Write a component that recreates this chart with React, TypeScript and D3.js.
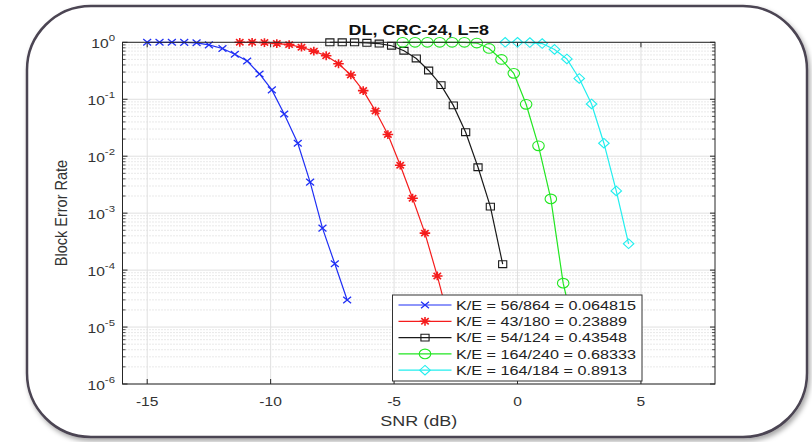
import React from 'react';
import * as d3 from 'd3';

// ---- data ----
const blueSnr = [-15, -14.5, -14, -13.5, -13, -12.5, -11.95, -11.45, -10.95, -10.45, -9.95, -9.45, -8.9, -8.4, -7.9, -7.4, -6.9];
const blueBler = [1, 1, 1, 0.995, 0.98, 0.9, 0.78, 0.615, 0.47, 0.278, 0.146, 0.0552, 0.0169, 0.0035, 0.000546, 0.000129, 0.0000298];

const redSnr = [-11.25, -10.75, -10.25, -9.75, -9.25, -8.75, -8.25, -7.75, -7.25, -6.75, -6.25, -5.75, -5.25, -4.75, -4.25, -3.75, -3.25, -2.75];
const redBler = [1, 1, 0.99, 0.95, 0.91, 0.82, 0.7, 0.58, 0.42, 0.267, 0.142, 0.062, 0.024, 0.00695, 0.00183, 0.000446, 0.000079, 0.000012];

const blackSnr = [-7.6, -7.1, -6.6, -6.1, -5.6, -5.1, -4.6, -4.1, -3.6, -3.1, -2.6, -2.1, -1.6, -1.1, -0.6];
const blackBler = [1, 1, 1, 0.98, 0.95, 0.87, 0.71, 0.52, 0.32, 0.177, 0.078, 0.0264, 0.0064, 0.0013, 0.000127];

const greenSnr = [-4.65, -4.15, -3.65, -3.15, -2.65, -2.15, -1.65, -1.15, -0.65, -0.15, 0.35, 0.85, 1.35, 1.85, 2.35];
const greenBler = [1, 1, 1, 1, 1, 1, 0.97, 0.78, 0.5, 0.285, 0.0815, 0.0152, 0.00178, 0.000059, 0.000007];

const cyanSnr = [-0.5, 0, 0.5, 1, 1.5, 2, 2.5, 3, 3.5, 4, 4.5];
const cyanBler = [1, 1, 0.99, 0.95, 0.75, 0.51, 0.232, 0.0826, 0.0169, 0.00246, 0.00029];

const legendLabels = [
  'K/E = 56/864 = 0.064815',
  'K/E = 43/180 = 0.23889',
  'K/E = 54/124 = 0.43548',
  'K/E = 164/240 = 0.68333',
  'K/E = 164/184 = 0.8913',
];
const seriesColors = ['#1f2ff5', '#f51c1c', '#1a1a1a', '#22e622', '#22eeee'];
const seriesMarkers = ['x', 'star', 'square', 'circle', 'diamond'];

const xTicks = [-15, -10, -5, 0, 5];
const yExponents = [0, -1, -2, -3, -4, -5, -6];

const titleText = 'DL, CRC-24, L=8';
const xLabel = 'SNR (dB)';
const yLabel = 'Block Error Rate';

// ---- layout ----
const W = 812;
const H = 442;
const PL = 122.5, PR = 715, PT = 42.3, PB = 384;
const SX = 1.2; // horizontal stretch of the reference
const FONT = '"Liberation Sans", Arial, Helvetica, sans-serif';
const AX = '#262626';

function Marker({ type, color }: { type: string; color: string }) {
  const common = { fill: 'none', stroke: color, strokeWidth: 1.1, vectorEffect: 'non-scaling-stroke' as any };
  if (type === 'x') return <path d="M-3.3,-3.3L3.3,3.3M-3.3,3.3L3.3,-3.3" {...common} strokeWidth={1.3} />;
  if (type === 'star')
    return <path d="M-4.4,0L4.4,0M0,-4.4L0,4.4M-3.1,-3.1L3.1,3.1M-3.1,3.1L3.1,-3.1" {...common} strokeWidth={1.6} />;
  if (type === 'square') return <rect x={-3.4} y={-3.4} width={6.8} height={6.8} {...common} />;
  if (type === 'circle') return <circle r={4.8} {...common} />;
  return <path d="M0,-4.8L4.4,0L0,4.8L-4.4,0Z" {...common} />;
}

export default function App() {
  const x = d3.scaleLinear().domain([-16, 8]).range([PL, PR]);
  const y = d3.scaleLog().domain([1e-6, 1]).range([PB, PT]);

  const series = [
    { snr: blueSnr, bler: blueBler },
    { snr: redSnr, bler: redBler },
    { snr: blackSnr, bler: blackBler },
    { snr: greenSnr, bler: greenBler },
    { snr: cyanSnr, bler: cyanBler },
  ].map((s, i) => ({
    pts: s.snr.map((v, j) => [v, s.bler[j]] as [number, number]),
    color: seriesColors[i],
    marker: seriesMarkers[i],
    label: legendLabels[i],
  }));

  const line = d3
    .line<[number, number]>()
    .x((d) => x(d[0]))
    .y((d) => y(d[1]));

  const minors: number[] = [];
  for (let e = -6; e < 0; e++) for (let m = 2; m <= 9; m++) minors.push(m * Math.pow(10, e));

  const lgX = 392.5, lgY = 295, lgW = 249.5, lgH = 86, lgRow = 16.3;

  return (
    <svg width={W} height={H} style={{ position: 'absolute', left: 0, top: 0, background: '#fff' }} fontFamily={FONT}>
      <defs>
        <filter id="shadow" x="-5%" y="-5%" width="112%" height="115%">
          <feDropShadow dx="2" dy="3" stdDeviation="2.5" floodColor="#000" floodOpacity="0.35" />
        </filter>
      </defs>
      <rect x={0} y={0} width={W} height={H} fill="#fff" />
      <rect x={27} y={6} width={780} height={431} rx={64} ry={64} fill="#fff" stroke="#4b4452" strokeWidth={2.5} filter="url(#shadow)" />

      {/* plot background */}
      <rect x={PL} y={PT} width={PR - PL} height={PB - PT} fill="#fff" />

      {/* minor grid */}
      {minors.map((v, i) => (
        <line key={'mg' + i} x1={PL} x2={PR} y1={y(v)} y2={y(v)} stroke="#c8c8c8" strokeWidth={0.8} strokeDasharray="1 2" />
      ))}
      {/* major grid */}
      {yExponents.map((e) => (
        <line key={'gy' + e} x1={PL} x2={PR} y1={y(Math.pow(10, e))} y2={y(Math.pow(10, e))} stroke="#e0e0e0" strokeWidth={1} />
      ))}
      {xTicks.map((t) => (
        <line key={'gx' + t} x1={x(t)} x2={x(t)} y1={PT} y2={PB} stroke="#e0e0e0" strokeWidth={1} />
      ))}

      {/* minor ticks */}
      {minors.map((v, i) => (
        <g key={'mt' + i} stroke={AX} strokeWidth={0.8}>
          <line x1={PL} x2={PL + 3} y1={y(v)} y2={y(v)} />
          <line x1={PR} x2={PR - 3} y1={y(v)} y2={y(v)} />
        </g>
      ))}
      {/* major ticks */}
      {yExponents.map((e) => (
        <g key={'ty' + e} stroke={AX} strokeWidth={1}>
          <line x1={PL} x2={PL + 5} y1={y(Math.pow(10, e))} y2={y(Math.pow(10, e))} />
          <line x1={PR} x2={PR - 5} y1={y(Math.pow(10, e))} y2={y(Math.pow(10, e))} />
        </g>
      ))}
      {xTicks.map((t) => (
        <g key={'tx' + t} stroke={AX} strokeWidth={1}>
          <line x1={x(t)} x2={x(t)} y1={PB} y2={PB - 5} />
          <line x1={x(t)} x2={x(t)} y1={PT} y2={PT + 5} />
        </g>
      ))}

      {/* series */}
      {series.map((s, i) => (
        <g key={'s' + i}>
          <path d={line(s.pts) || ''} fill="none" stroke={s.color} strokeWidth={1.2} />
          {s.pts.map((p, j) => (
            <g key={j} transform={`translate(${x(p[0])},${y(p[1])}) scale(${SX},1)`}>
              <Marker type={s.marker} color={s.color} />
            </g>
          ))}
        </g>
      ))}

      {/* axes box */}
      <rect x={PL} y={PT} width={PR - PL} height={PB - PT} fill="none" stroke={AX} strokeWidth={1} />

      {/* legend */}
      <rect x={lgX} y={lgY} width={lgW} height={lgH} fill="#fff" stroke="#333" strokeWidth={1} />
      {series.map((s, i) => {
        const cy = lgY + 10 + i * lgRow;
        return (
          <g key={'lg' + i}>
            <line x1={lgX + 6} x2={lgX + 59} y1={cy} y2={cy} stroke={s.color} strokeWidth={1.2} />
            <g transform={`translate(${lgX + 32.5},${cy}) scale(${SX},1)`}>
              <Marker type={s.marker} color={s.color} />
            </g>
            <text transform={`translate(${lgX + 63.5},${cy + 4.8}) scale(${SX},1)`} fontSize={13.5} fill="#222">
              {s.label}
            </text>
          </g>
        );
      })}

      {/* tick labels */}
      {xTicks.map((t) => (
        <text key={'xl' + t} transform={`translate(${x(t)},${PB + 21.5}) scale(${SX},1)`} textAnchor="middle" fontSize={13} fill="#333">
          {t < 0 ? '-' + Math.abs(t) : String(t)}
        </text>
      ))}
      {yExponents.map((e) => (
        <text key={'yl' + e} transform={`translate(${PL - 7.5},${y(Math.pow(10, e)) + 5.5}) scale(${SX},1)`} textAnchor="end" fontSize={13} fill="#333">
          10
          <tspan dy={-6.5} fontSize={9.5}>
            {e < 0 ? '-' + Math.abs(e) : String(e)}
          </tspan>
        </text>
      ))}

      {/* title & labels */}
      <text transform={`translate(${(PL + PR) / 2},${34.5}) scale(${SX},1)`} textAnchor="middle" fontSize={15} fontWeight="bold" fill="#111">
        {titleText}
      </text>
      <text transform={`translate(${(PL + PR) / 2},${426}) scale(${SX},1)`} textAnchor="middle" fontSize={15} fill="#333">
        {xLabel}
      </text>
      <text transform={`translate(${67},${213}) scale(${SX},1) rotate(-90)`} textAnchor="middle" fontSize={14.5} fill="#333">
        {yLabel}
      </text>
    </svg>
  );
}
